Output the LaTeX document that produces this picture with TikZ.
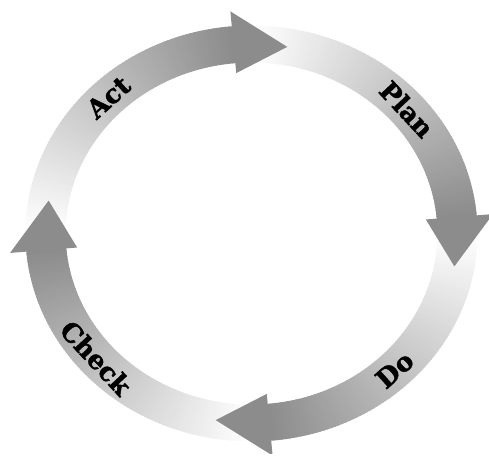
\documentclass[tikz,border=0pt]{standalone}
\usepackage{fontspec}
\setmainfont{DejaVu Serif}[BoldFeatures={FakeBold=1.6}]
\usepackage{tikz}
\tikzset{
  lbl/.style={font=\fontsize{26}{26}\selectfont\bfseries, text=black, inner sep=0pt},
  arrhead/.style={fill=black!45},
}
\newcommand{\rout}{208}
\newcommand{\rin}{171}
\newcommand{\rmid}{189.5}

\begin{document}
\begin{tikzpicture}[x=1pt,y=1pt]
\useasboundingbox (0,0) rectangle (489,458);
\clip (0,5) rectangle (489,458);
\begin{scope}[shift={(251.5,224.5)}, xscale=1.087]
\foreach \b in {95,5,-85,-175}{
  \foreach \i in {0,...,84}{
    \pgfmathsetmacro{\a}{\b+85-\i}
    \pgfmathsetmacro{\e}{\a-1.4}
    \pgfmathsetmacro{\p}{45*\i/84}
    \fill[black!\p] (\a:\rout) arc[start angle=\a, end angle=\e, radius=\rout]
      -- (\e:\rin) arc[start angle=\e, end angle=\a, radius=\rin] -- cycle;
  }
}
\foreach \b in {95,5,-85,-175}
  \fill[arrhead] (\b:223) -- ({\b-15}:\rmid) -- (\b:161) -- cycle;
\node[lbl, rotate=42] (act) at (134:\rmid) {Act};
\node[lbl, rotate=-47] (plan) at (41:\rmid) {Plan};
\node[lbl, rotate=42] (do) at (-46:\rmid) {Do};
\node[lbl, rotate=-47] (check) at (221:\rmid) {Check};
\end{scope}
\end{tikzpicture}
\end{document}
